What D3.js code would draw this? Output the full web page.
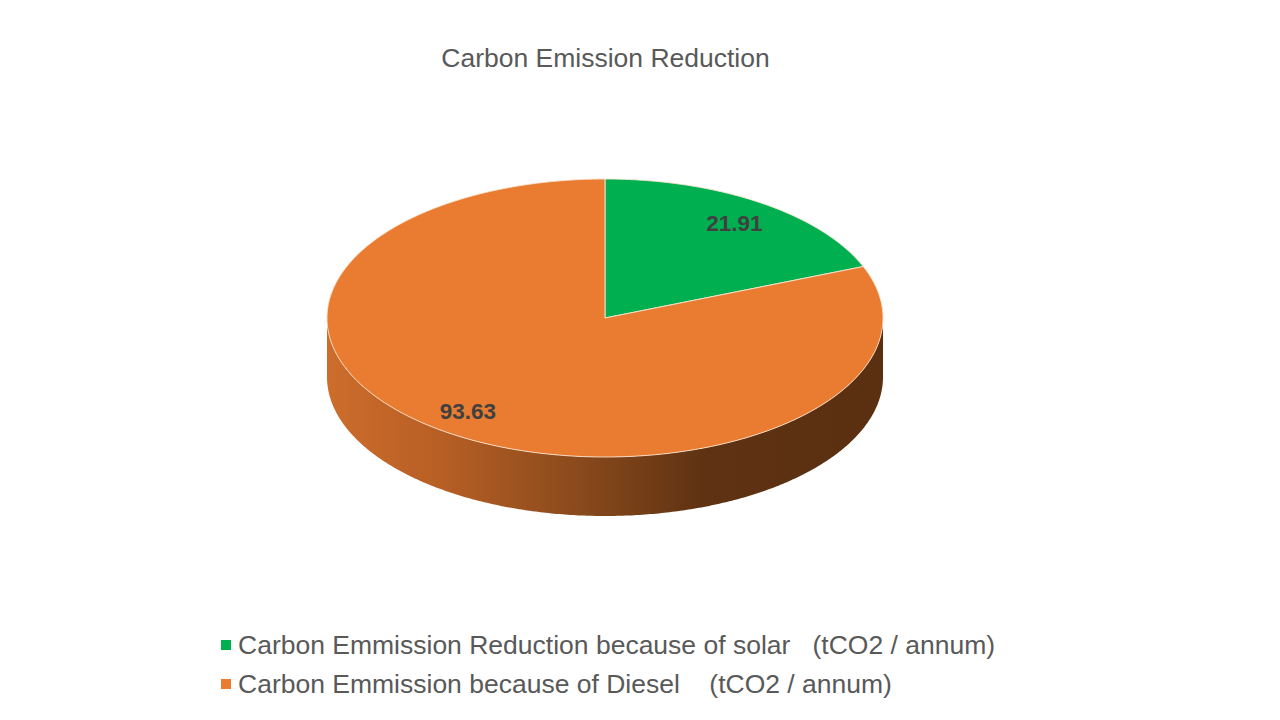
<!DOCTYPE html>
<html>
<head>
<meta charset="utf-8">
<script src="https://cdn.jsdelivr.net/npm/d3@7"></script>
<style>
  html, body { margin: 0; padding: 0; background: #ffffff; }
  svg { display: block; }
  text { font-family: "Liberation Sans", Arial, sans-serif; }
</style>
</head>
<body>
<svg id="chart" width="1280" height="720"></svg>
<script>
const title = "Carbon Emission Reduction";
const categories = [
  "Carbon Emmission Reduction because of solar   (tCO2 / annum)",
  "Carbon Emmission because of Diesel    (tCO2 / annum)"
];
const values = [21.91, 93.63];
const colors = ["#00b050", "#e97c31"];

const W = 1280, H = 720;
const cx = 605, cy = 318, rx = 278, ry = 139, depth = 59;

const svg = d3.select("#chart");

const defs = svg.append("defs");
const grad = defs.append("linearGradient")
  .attr("id", "sideGrad")
  .attr("gradientUnits", "userSpaceOnUse")
  .attr("x1", cx - rx).attr("y1", 0)
  .attr("x2", cx + rx).attr("y2", 0);
grad.append("stop").attr("offset", "0%").attr("stop-color", "#cc6d2b");
grad.append("stop").attr("offset", "20%").attr("stop-color", "#b85f25");
grad.append("stop").attr("offset", "45%").attr("stop-color", "#8a4a1c");
grad.append("stop").attr("offset", "68%").attr("stop-color", "#5e3212");
grad.append("stop").attr("offset", "100%").attr("stop-color", "#5a3010");

const greenSide = defs.append("linearGradient")
  .attr("id", "sideGrad0")
  .attr("gradientUnits", "userSpaceOnUse")
  .attr("x1", cx - rx).attr("y1", 0)
  .attr("x2", cx + rx).attr("y2", 0);
greenSide.append("stop").attr("offset", "0%").attr("stop-color", "#00913f");
greenSide.append("stop").attr("offset", "100%").attr("stop-color", "#004d22");

const pie = d3.pie().sort(null).value(d => d).startAngle(0).endAngle(2 * Math.PI);
const arcs = pie(values);

const pt = (a, dy = 0) => [cx + rx * Math.sin(a), cy - ry * Math.cos(a) + dy];
const line = d3.line();

function sample(a0, a1, dy) {
  const n = Math.max(2, Math.ceil(Math.abs(a1 - a0) / 0.01));
  const out = [];
  for (let i = 0; i <= n; i++) out.push(pt(a0 + (a1 - a0) * i / n, dy));
  return out;
}

const gSide = svg.append("g");
arcs.forEach((d, i) => {
  const s = Math.max(d.startAngle, Math.PI / 2);
  const e = Math.min(d.endAngle, 3 * Math.PI / 2);
  if (e <= s) return;
  const top = sample(s, e, 0);
  const bot = sample(e, s, depth);
  gSide.append("path")
    .attr("d", line(top.concat(bot)) + "Z")
    .attr("fill", i === 1 ? "url(#sideGrad)" : "url(#sideGrad0)")
    .attr("stroke", "none");
});

const gTop = svg.append("g");
arcs.forEach((d, i) => {
  const pts = [[cx, cy]].concat(sample(d.startAngle, d.endAngle, 0));
  gTop.append("path")
    .attr("d", line(pts) + "Z")
    .attr("fill", colors[i])
    .attr("stroke", "#fbe3cf")
    .attr("stroke-width", 0.9)
    .attr("stroke-linejoin", "round");
});

// data labels
arcs.forEach((d, i) => {
  const mid = (d.startAngle + d.endAngle) / 2 + (i === 1 ? 0.04 : 0);
  const r = 0.83;
  const x = cx + rx * r * Math.sin(mid);
  const y = cy - ry * r * Math.cos(mid);
  svg.append("text")
    .attr("x", x).attr("y", y + 8)
    .attr("text-anchor", "middle")
    .attr("font-size", 22.5)
    .attr("font-weight", "bold")
    .attr("fill", "#404040")
    .text(d3.format(".2f")(values[i]));
});

// title
svg.append("text")
  .attr("x", 605.5).attr("y", 67)
  .attr("text-anchor", "middle")
  .attr("font-size", 26.5)
  .attr("fill", "#595959")
  .text(title);

// legend
const leg = svg.append("g");
categories.forEach((c, i) => {
  const y = 645 + i * 39;
  leg.append("rect")
    .attr("x", 221).attr("y", y - 5)
    .attr("width", 10).attr("height", 10)
    .attr("fill", colors[i]);
  leg.append("text")
    .attr("x", 238).attr("y", y + 9)
    .attr("font-size", 26.5)
    .attr("fill", "#595959")
    .style("white-space", "pre")
    .attr("xml:space", "preserve")
    .text(c);
});
</script>
</body>
</html>
